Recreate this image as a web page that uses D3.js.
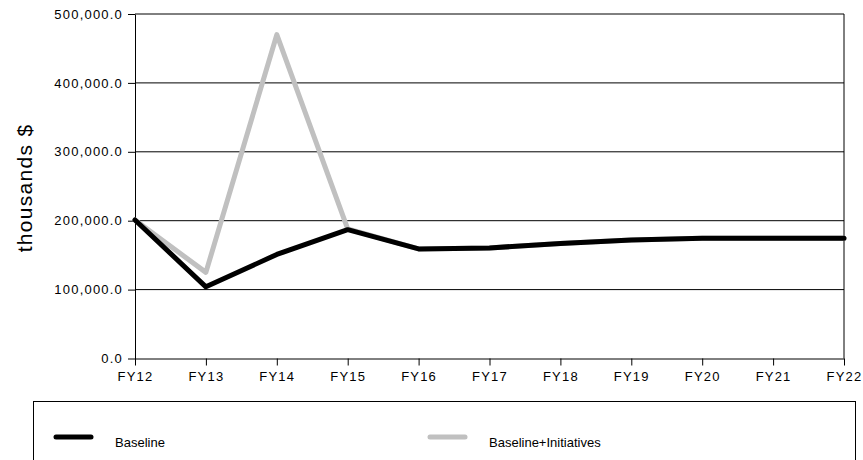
<!DOCTYPE html>
<html>
<head>
<meta charset="utf-8">
<script src="https://cdn.jsdelivr.net/npm/d3@7"></script>
<style>
  html, body { margin: 0; padding: 0; background: #fff; }
  svg { display: block; }
  text { font-family: "Liberation Sans", Arial, sans-serif; fill: #000; }
</style>
</head>
<body>
<svg id="chart" width="863" height="460"></svg>
<script>
// Fiscal years on the x axis
const years = ["FY12", "FY13", "FY14", "FY15", "FY16", "FY17", "FY18", "FY19", "FY20", "FY21", "FY22"];
// Spending in thousands of dollars
const baseline = [201000, 104000, 151000, 187000, 159000, 160500, 167000, 172000, 174500, 174500, 174500];
const baselineInitiatives = [201000, 125000, 470000, 188000, 159000, 160500, 167000, 172000, 174500, 174500, 174500];
const yTicks = [0, 100000, 200000, 300000, 400000, 500000];
const seriesNames = ["Baseline", "Baseline+Initiatives"];
const seriesColors = ["#000000", "#c0c0c0"];

const svg = d3.select("#chart");
const plotLeft = 135, plotRight = 844, plotTop = 14, plotBottom = 358.5;

const x = d3.scalePoint().domain(years).range([plotLeft, plotRight]);
const y = d3.scaleLinear().domain([0, 500000]).range([plotBottom, plotTop]);
const fmt = d3.format(",.1f");

// horizontal gridlines
svg.append("g")
  .selectAll("line")
  .data(yTicks.filter(d => d > 0))
  .join("line")
  .attr("x1", plotLeft).attr("x2", plotRight)
  .attr("y1", d => y(d)).attr("y2", d => y(d))
  .attr("stroke", "#000").attr("stroke-width", 1);

// right frame edge
svg.append("line")
  .attr("x1", plotRight).attr("x2", plotRight)
  .attr("y1", plotTop).attr("y2", plotBottom)
  .attr("stroke", "#000");

// y axis
const yAxis = svg.append("g")
  .attr("transform", `translate(${plotLeft},0)`)
  .call(d3.axisLeft(y).tickValues(yTicks).tickFormat(fmt).tickSize(7).tickPadding(5).tickSizeOuter(0));
yAxis.select(".domain").attr("stroke", "#000");
yAxis.selectAll(".tick line").attr("stroke", "#000");
yAxis.selectAll("text")
  .attr("font-family", "Liberation Sans, Arial, sans-serif")
  .attr("font-size", 13)
  .attr("letter-spacing", "1.2px")
  .attr("fill", "#000");

// x axis
const xAxis = svg.append("g")
  .attr("transform", `translate(0,${plotBottom})`)
  .call(d3.axisBottom(x).tickSize(7).tickPadding(6).tickSizeOuter(0));
xAxis.select(".domain").attr("stroke", "#000");
xAxis.selectAll(".tick line").attr("stroke", "#000");
xAxis.selectAll("text")
  .attr("font-family", "Liberation Sans, Arial, sans-serif")
  .attr("font-size", 13)
  .attr("letter-spacing", "1.2px")
  .attr("fill", "#000");

// y axis title
svg.append("text")
  .attr("transform", "translate(32,188) rotate(-90)")
  .attr("text-anchor", "middle")
  .attr("font-size", 21)
  .attr("letter-spacing", "1.3px")
  .text("thousands $");

// series lines: the initiatives line sits under the baseline
const line = d3.line().x((d, i) => x(years[i])).y(d => y(d));
[[baselineInitiatives, 1], [baseline, 0]].forEach(([vals, idx]) => {
  svg.append("path")
    .datum(vals)
    .attr("d", line)
    .attr("fill", "none")
    .attr("stroke", seriesColors[idx])
    .attr("stroke-width", 5)
    .attr("stroke-linejoin", "round")
    .attr("stroke-linecap", "round");
});

// legend
svg.append("rect")
  .attr("x", 33.5).attr("y", 401.5)
  .attr("width", 822).attr("height", 80)
  .attr("fill", "none").attr("stroke", "#000");

const legendX = [56, 430];
seriesNames.forEach((name, i) => {
  svg.append("line")
    .attr("x1", legendX[i]).attr("x2", legendX[i] + 35)
    .attr("y1", 437).attr("y2", 437)
    .attr("stroke", seriesColors[i])
    .attr("stroke-width", 5)
    .attr("stroke-linecap", "round");
  svg.append("text")
    .attr("x", legendX[i] + 59)
    .attr("y", 442)
    .attr("dy", "0.35em")
    .attr("font-size", 13)
    .text(name);
});
</script>
</body>
</html>
